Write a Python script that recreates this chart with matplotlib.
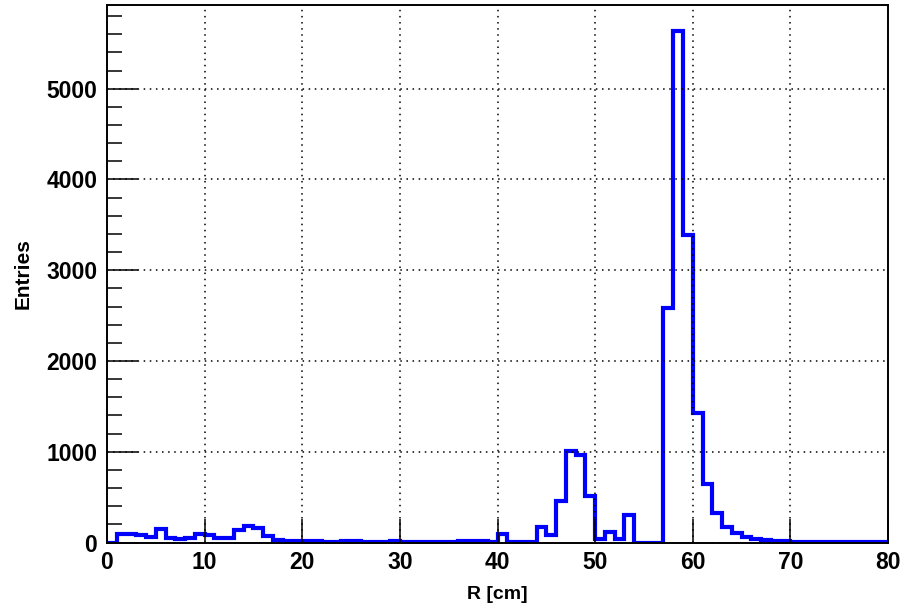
import matplotlib
matplotlib.use("Agg")
import matplotlib.pyplot as plt
import numpy as np
from matplotlib.ticker import MultipleLocator

# histogram: 80 bins of 1 cm between 0 and 80
bin_edges = np.arange(0, 81, 1)
entries = [
    0, 90, 90, 82, 60, 150, 55, 40, 45, 95,
    80, 55, 45, 140, 180, 160, 75, 30, 20, 15,
    12, 12, 10, 10, 12, 15, 10, 8, 10, 12,
    10, 8, 8, 10, 8, 8, 12, 18, 15, 10,
    90, 10, 5, 5, 170, 85, 460, 1010, 965, 510,
    40, 120, 40, 300, 0, 0, 0, 2580, 5640, 3390,
    1425, 640, 325, 175, 110, 65, 40, 30, 20, 15,
    10, 8, 5, 4, 3, 2, 2, 1, 1, 1,
]
x_label = "R [cm]"
y_label = "Entries"

plt.rcParams["font.family"] = ["Liberation Sans", "DejaVu Sans"]
plt.rcParams["font.weight"] = "bold"

fig = plt.figure(figsize=(9.03, 6.09), dpi=100)
ax = fig.add_axes([107 / 903, 66.5 / 609, 781 / 903, 537.5 / 609])

ax.stairs(entries, bin_edges, color="#0000ff", lw=3.0, baseline=0)

ax.set_xlim(0, 80)
ax.set_ylim(0, max(entries) * 1.05)

ax.xaxis.set_major_locator(MultipleLocator(10))
ax.yaxis.set_major_locator(MultipleLocator(1000))
ax.yaxis.set_minor_locator(MultipleLocator(200))
ax.grid(True, which="major", color="black", linestyle=(0, (1, 3)), lw=1.1)

ax.tick_params(axis="both", which="major", direction="in", labelsize=16.5,
               width=1.1, color="black")
ax.tick_params(axis="y", which="major", length=22, pad=7)
ax.tick_params(axis="y", which="minor", direction="in", length=11, width=1.1)
ax.tick_params(axis="x", which="major", length=17, pad=6)
for lab in ax.get_xticklabels() + ax.get_yticklabels():
    lab.set_fontweight("bold")

for spine in ax.spines.values():
    spine.set_linewidth(1.4)
    spine.set_color("black")

ax.set_xlabel(x_label, fontsize=14, fontweight="bold", labelpad=9)
ax.set_ylabel(y_label, fontsize=15, fontweight="bold", labelpad=10)

fig.savefig("out.png", dpi=100)
